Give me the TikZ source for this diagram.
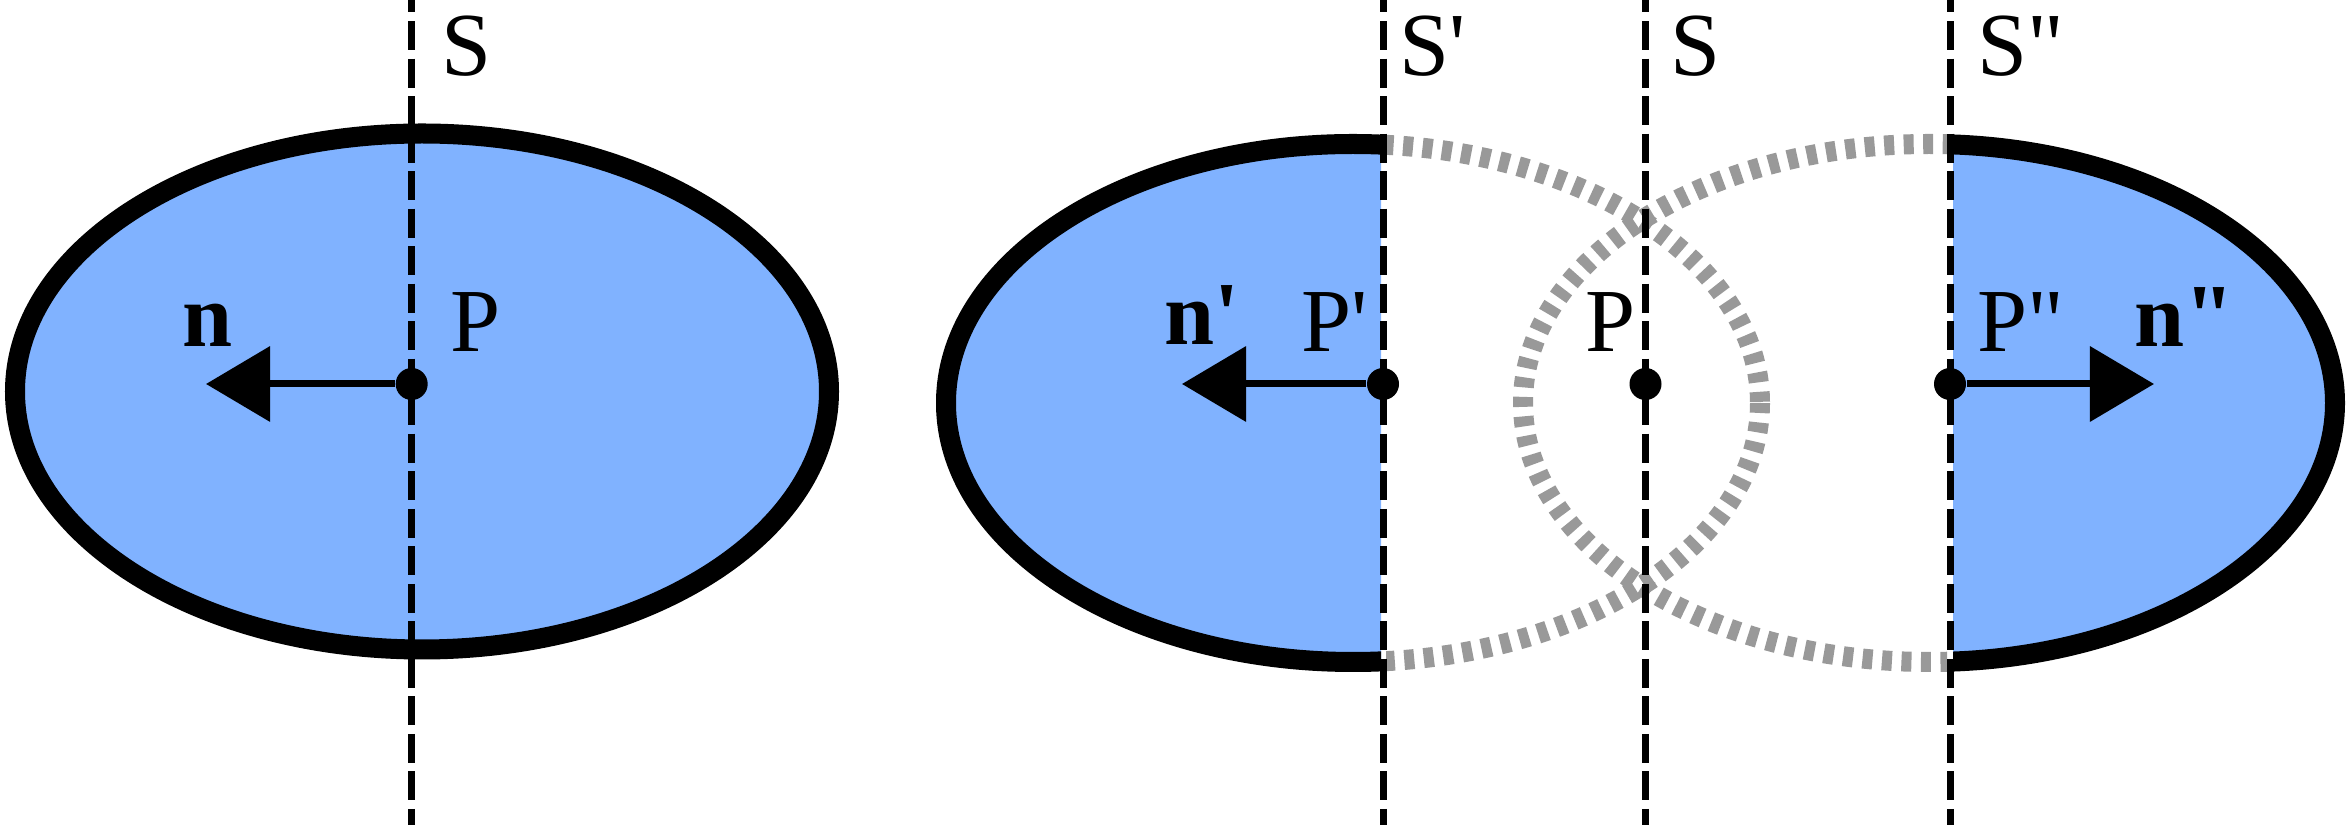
\documentclass[tikz,border=0pt]{standalone}
\usepackage{fontspec}
\setmainfont{Liberation Serif}[Ligatures=TeXOff]
\usetikzlibrary{arrows.meta}
\definecolor{bodyblue}{RGB}{128,178,255}
\newcommand{\Tick}{\symbol{"27}}
\newcommand{\TTick}{\symbol{"22}}
\tikzset{
    shell/.style={draw=black, line width=0.2cm, fill=bodyblue},
    ghost/.style={draw=black!40, line width=0.2cm, dash pattern=on 0.1cm off 0.095cm},
    cut/.style={draw=black, line width=0.07cm, dash pattern=on 0.29cm off 0.085cm, dash phase=0.165cm},
    dot/.style={circle, fill=black, inner sep=0pt, minimum size=0.32cm},
    vec/.style={line width=0.07cm, -{Triangle[length=0.64cm, width=0.74cm]}},
    lbl/.style={anchor=base west, inner sep=0pt, font=\fontsize{25.6pt}{30pt}\selectfont},
}

\begin{document}
\begin{tikzpicture}[x=0.01cm, y=-0.01cm]
    \useasboundingbox (0,0) rectangle (2347,825);

    \filldraw[shell] (422,391.5) ellipse [x radius=407, y radius=258];

    \begin{scope}
      \clip (0,0) rectangle (1381,825);
      \filldraw[shell] (1353,403) ellipse [x radius=407, y radius=259];
    \end{scope}
    \begin{scope}
      \clip (1386,0) rectangle (2347,825);
      \draw[ghost] (1353,403) ellipse [x radius=407, y radius=259];
    \end{scope}

    \begin{scope}
      \clip (1953,0) rectangle (2347,825);
      \filldraw[shell] (1929,403) ellipse [x radius=406, y radius=259];
    \end{scope}
    \begin{scope}
      \clip (0,0) rectangle (1947,825);
      \draw[ghost] (1929,403) ellipse [x radius=406, y radius=259];
    \end{scope}

    \draw[cut] (411.7,0) -- (411.7,825);
    \draw[cut] (1383,0) -- (1383,825);
    \draw[cut] (1645.5,0) -- (1645.5,825);
    \draw[cut] (1950,0) -- (1950,825);

    \node[dot] (p0) at (411.7,384) {};
    \node[dot] (p1) at (1383,384) {};
    \node[dot] (p2) at (1645.5,384) {};
    \node[dot] (p3) at (1950,384) {};

    \coordinate (n0) at (206,384);
    \coordinate (n1) at (1182,384);
    \coordinate (n3) at (2154,384);
    \draw[vec] (p0) -- (n0);
    \draw[vec] (p1) -- (n1);
    \draw[vec] (p3) -- (n3);

    \node[lbl] (s0) at (441,76) {S};
    \node[lbl] (s1) at (1399,76) {S\Tick};
    \node[lbl] (s2) at (1670,76) {S};
    \node[lbl] (s3) at (1977,76) {S\TTick};

    \node[lbl] (lp0) at (450,352) {P};
    \node[lbl] (lp1) at (1301,352) {P\Tick};
    \node[lbl] (lp2) at (1585,352) {P};
    \node[lbl] (lp3) at (1977,352) {P\TTick};

    \node[lbl] (ln0) at (182,347) {\textbf{n}};
    \node[lbl] (ln1) at (1164,345) {\textbf{n\Tick}};
    \node[lbl] (ln3) at (2134,347) {\textbf{n\TTick}};
\end{tikzpicture}
\end{document}
